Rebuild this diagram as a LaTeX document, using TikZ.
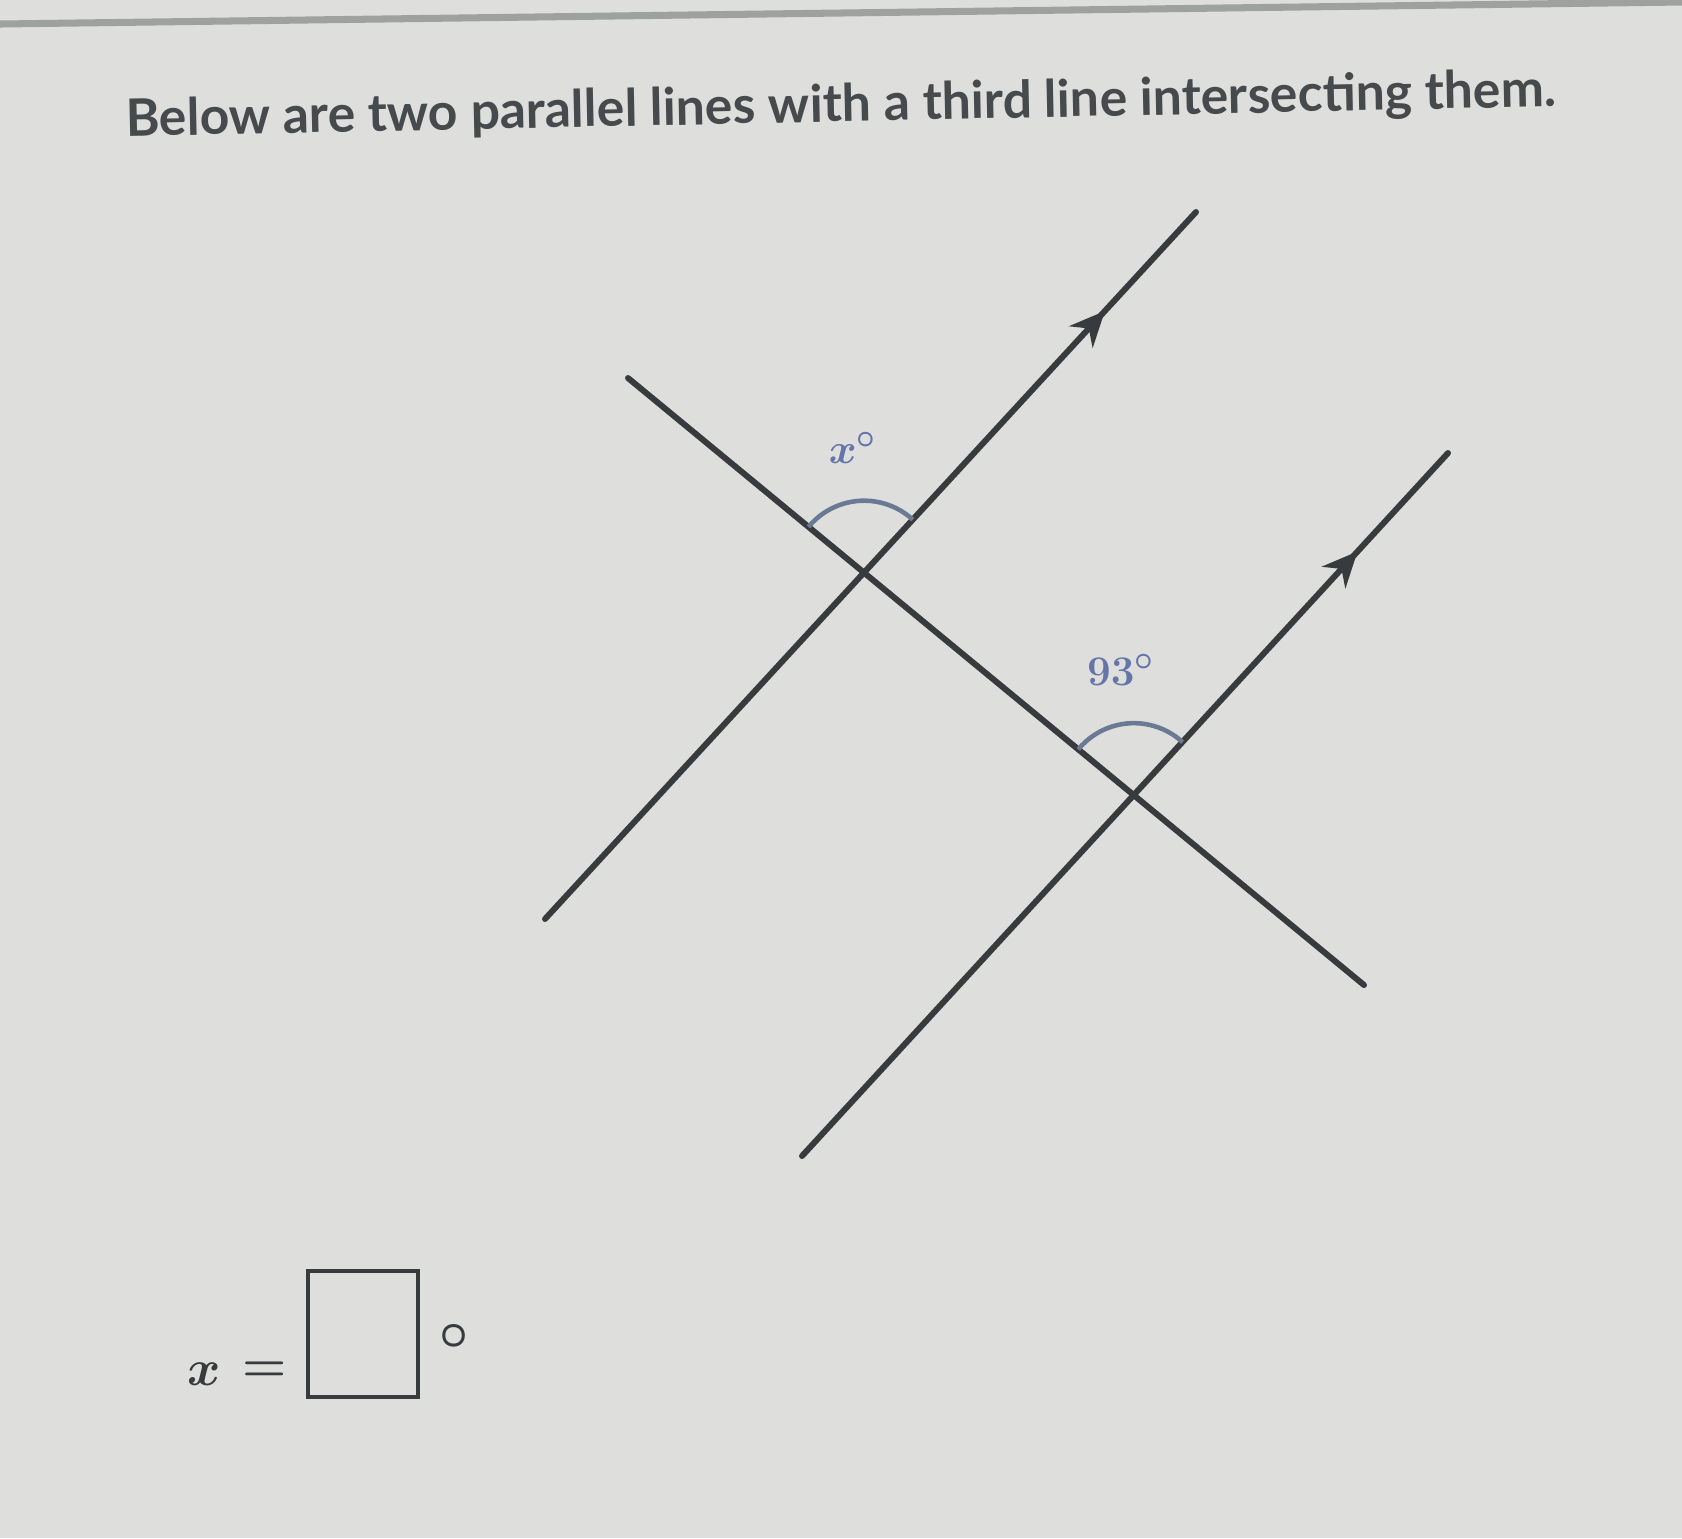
\documentclass[tikz,border=0pt]{standalone}
\usepackage{fontspec}
\newfontfamily\titlefont{Lato}
\usetikzlibrary{arrows.meta,decorations.markings}
\definecolor{bgpaper}{rgb}{0.87,0.875,0.865}
\definecolor{ink}{rgb}{0.22,0.23,0.24}
\definecolor{titleink}{rgb}{0.28,0.29,0.30}
\definecolor{arcblue}{rgb}{0.42,0.48,0.58}
\definecolor{lblblue}{rgb}{0.40,0.46,0.66}
\definecolor{edgegray}{rgb}{0.62,0.63,0.62}
\begin{document}
\begin{tikzpicture}[x=0.01cm,y=-0.01cm,
  geoline/.style={draw=ink,line width=1.7pt,line cap=round},
  parmark/.style={postaction={decorate,decoration={markings,mark=at position 0.86 with {\arrow{Stealth[length=10pt,width=9pt]}}}}},
  anglearc/.style={draw=arcblue,line width=1.3pt},
  anglelabel/.style={text=lblblue,font=\fontsize{13}{15}\selectfont\boldmath,inner sep=0pt},
  answertext/.style={text=ink,font=\fontsize{15}{17}\selectfont\boldmath,inner sep=0pt}]
\fill[bgpaper] (0,0) rectangle (1682,1538);
\useasboundingbox (0,0) rectangle (1682,1538);
\coordinate (E1) at (0,24);
\coordinate (E2) at (1682,2);
\draw[edgegray,line width=2pt] (E1) -- (E2);
\node[text=titleink,font=\titlefont\bfseries\fontsize{14.7}{17}\selectfont,rotate=1.2,inner sep=0pt] (title) at (841,107)
  {Below are two parallel lines with a third line intersecting them.};
\coordinate (A1) at (545,919);
\coordinate (A2) at (1196,212);
\coordinate (B1) at (802,1156);
\coordinate (B2) at (1448,453);
\coordinate (T1) at (628,378);
\coordinate (T2) at (1364,985);
\coordinate (P) at (intersection of A1--A2 and T1--T2);
\coordinate (Q) at (intersection of B1--B2 and T1--T2);
\draw[geoline,parmark] (A1) -- (A2);
\draw[geoline,parmark] (B1) -- (B2);
\draw[geoline] (T1) -- (T2);
\draw[anglearc] (P) ++(47.4:0.72cm) arc[start angle=47.4,end angle=140.5,radius=0.72cm];
\draw[anglearc] (Q) ++(47.4:0.72cm) arc[start angle=47.4,end angle=140.5,radius=0.72cm];
\node[anglelabel] (xlab) at (853,448) {$x^{\circ}$};
\node[anglelabel] (nlab) at (1121,670) {$93^{\circ}$};
\node[answertext] (xvar) at (204,1374) {$x$};
\node[answertext] (eqs) at (265,1372) {$=$};
\node[draw=ink,line width=1.1pt,minimum width=1.1cm,minimum height=1.26cm,inner sep=0pt] (ansbox) at (363,1334) {};
\node[answertext] (degs) at (454,1336) {$\circ$};
\end{tikzpicture}
\end{document}
